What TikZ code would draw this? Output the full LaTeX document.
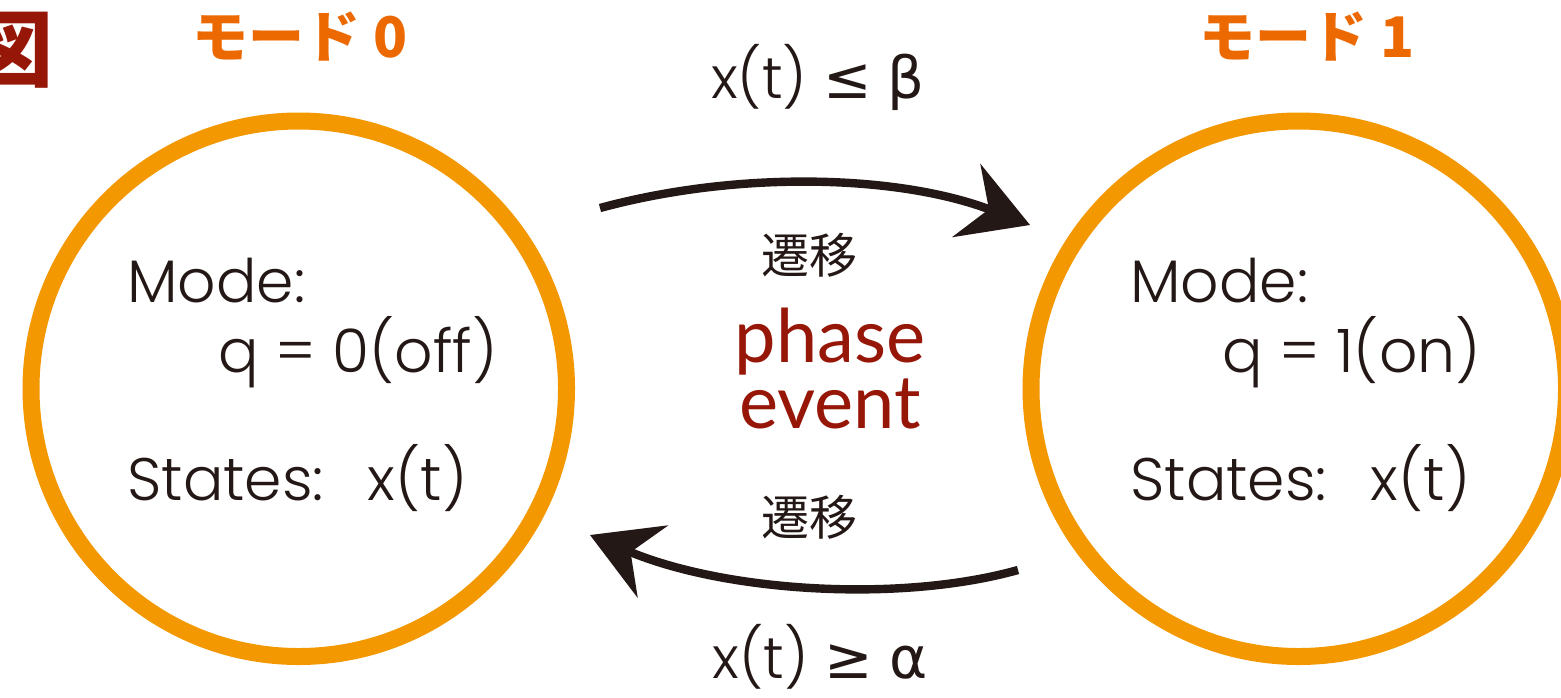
\documentclass[tikz,border=0pt]{standalone}
\usepackage{fontspec}
\usetikzlibrary{arrows.meta}
\IfFontExistsTF{Poppins Light}{\setmainfont{Poppins Light}}{\setmainfont{Poppins}}
\newfontfamily\cjk{Noto Sans CJK JP}
\newfontfamily\symf{DejaVu Sans}
\newfontfamily\evf{Lato}
\definecolor{ringorange}{RGB}{243,152,0}
\definecolor{titleorange}{RGB}{236,104,0}
\definecolor{deepred}{RGB}{150,22,8}
\definecolor{inkblack}{RGB}{35,24,21}
\tikzset{
  mode/.style={circle, draw=ringorange, line width=8.5pt, minimum size=267.75pt, inner sep=0pt},
  body/.style={anchor=base west, inner sep=0pt, text=inkblack, font=\fontsize{30}{36}\selectfont},
  title/.style={inner sep=0pt, text=titleorange, font=\cjk\bfseries\fontsize{28}{33}\selectfont},
  jump/.style={inner sep=0pt, text=inkblack, font=\cjk\fontsize{24}{28}\selectfont},
  guard/.style={anchor=base, inner sep=0pt, text=inkblack, font=\fontsize{29}{34}\selectfont},
  trans/.style={draw=inkblack, line width=4.2pt,
    -{Stealth[length=34pt, width=39pt, inset=12pt]}},
}
\begin{document}
\begin{tikzpicture}[x=0.5pt, y=-0.5pt]
\useasboundingbox (0,0) rectangle (1561,697);

% corner heading
\node[inner sep=0pt, text=deepred, font=\cjk\bfseries\fontsize{42}{46}\selectfont] (fig) at (12,50) {図};

% mode titles
\node[title] (t0) at (300,37) {モード 0};
\node[title] (t1) at (1307,37) {モード 1};

% the two modes
\node[mode] (m0) at (298.75,388.75) {};
\node[mode] (m1) at (1298.75,388.75) {};

% mode 0 contents
\node[body] (m0mode) at (127,302) {Mode:};
\node[body] (m0q) at (218,372) {q = 0(off)};
\node[body] (m0s) at (127,500) {States:\hspace{22pt}x(t)};

% mode 1 contents
\node[body] (m1mode) at (1130,302) {Mode:};
\node[body] (m1q) at (1222,372) {q = 1(on)};
\node[body] (m1s) at (1130,500) {States:\hspace{22pt}x(t)};

% transitions
\coordinate (u0) at (600,208);
\coordinate (u1) at (1030,225);
\coordinate (d0) at (1018,570);
\coordinate (d1) at (590,535);
\draw[trans] (u0) .. controls (740,170) and (900,175) .. (u1);
\draw[trans] (d0) .. controls (900,603) and (725,592) .. (d1);

% guards
\node[guard] (gup) at (818,98) {x(t) {\symf ≤} {\symf β}};
\node[guard] (gdn) at (820,678) {x(t) {\symf ≥} {\symf α}};

% transition labels
\node[jump] (j0) at (809,255) {遷移};
\node[jump] (j1) at (809,517) {遷移};

% event label
\node[inner sep=0pt, anchor=base, text=deepred, font=\evf\fontsize{37}{33}\selectfont] (ev1) at (830,362) {phase};
\node[inner sep=0pt, anchor=base, text=deepred, font=\evf\fontsize{37}{33}\selectfont] (ev2) at (830,428) {event};
\end{tikzpicture}
\end{document}
